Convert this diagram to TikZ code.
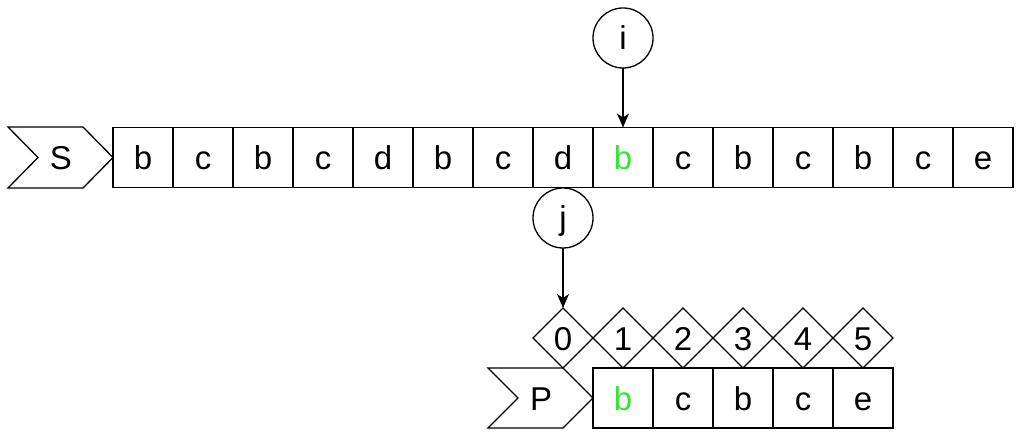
\documentclass[tikz,border=0pt]{standalone}
\usepackage{fontspec}
\setmainfont{Liberation Sans}
\usetikzlibrary{arrows.meta}
\definecolor{hl}{RGB}{51,230,51}
\tikzset{
  base/.style={draw=black, line width=1.3pt, inner sep=0pt, outer sep=0pt,
    font=\fontsize{33}{39}\selectfont, text height=24pt, text depth=0pt},
  cell/.style={base, rectangle, minimum width=60pt, minimum height=60pt},
  idx/.style={base, circle, minimum size=60pt},
  dia/.style={base, draw=none, minimum width=60pt, minimum height=60pt},
  lbl/.style={inner sep=0pt, outer sep=0pt, font=\fontsize{33}{39}\selectfont, text height=24pt, text depth=0pt},
  chev/.style={draw=black, line width=1.3pt, line join=miter},
  arr/.style={-{Stealth[length=14pt,width=12pt,inset=4pt]}, line width=1.3pt},
}
\begin{document}
\begin{tikzpicture}[x=1pt,y=-1pt]
\useasboundingbox (0,0) rectangle (1030,443);
% S chevron
\draw[chev] (8,127) -- (83,127) -- (113,157.5) -- (83,188) -- (8,188) -- (38,157.5) -- cycle;
\node[lbl] (S) at (61,157.5) {S};
% top row
\foreach \ch [count=\k] in {b,c,b,c,d,b,c,d,b,c,b,c,b,c,e} {
  \ifnum\k=9
    \node[cell, text=hl] (s\k) at ({113+60*\k-30},157.5) {\ch};
  \else
    \node[cell] (s\k) at ({113+60*\k-30},157.5) {\ch};
  \fi
}
% i
\node[idx] (ci) at (623,38) {i};
\draw[arr] (ci) -- (s9);
% j
\node[idx] (cj) at (563,218) {j};
% diamonds
\foreach \n in {0,...,5} {
  \node[dia] (d\n) at ({563+60*\n},338) {\n};
  \draw[chev] ({563+60*\n-30},338) -- ({563+60*\n},308) -- ({563+60*\n+30},338) -- ({563+60*\n},368) -- cycle;
}
\draw[arr] (cj) -- (d0.north);
% P chevron
\draw[chev] (488,368) -- (563,368) -- (593,398) -- (563,428) -- (488,428) -- (518,398) -- cycle;
\node[lbl] (P) at (541,398) {P};
% bottom row
\node[cell, text=hl] (p1) at (623,398) {b};
\node[cell] (p2) at (683,398) {c};
\node[cell] (p3) at (743,398) {b};
\node[cell] (p4) at (803,398) {c};
\node[cell] (p5) at (863,398) {e};
\end{tikzpicture}
\end{document}
